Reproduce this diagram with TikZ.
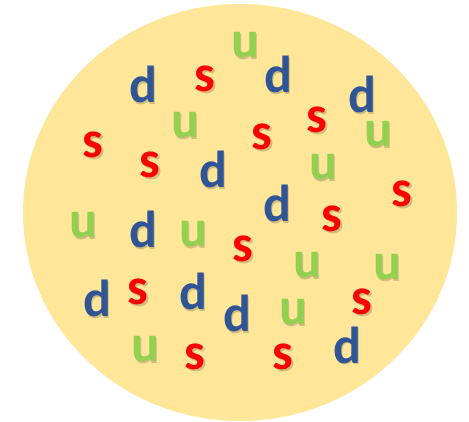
\documentclass[tikz,border=0pt]{standalone}
\usepackage{fontspec}
\setmainfont{Carlito}
\definecolor{bgfill}{HTML}{FFE699}
\definecolor{dblue}{HTML}{2F5597}
\definecolor{sred}{HTML}{FF0000}
\definecolor{ugreen}{HTML}{92D050}
\tikzset{
  ltr/.style={inner sep=0pt, anchor=base, font=\fontsize{52}{52}\selectfont\bfseries},
  shd/.style={ltr, text=black, text opacity=0.18},
  lu/.style={text=ugreen},
  ld/.style={text=dblue},
  ls/.style={text=sred},
}
\begin{document}
\begin{tikzpicture}[x=1pt,y=-1pt]
\useasboundingbox (0,0) rectangle (469,422);
\fill[bgfill] (240,212.5) ellipse [x radius=217, y radius=208.5];
\foreach \ch/\x/\y [count=\i] in {
  u/245/58, d/143/103, s/205/92, d/278/93, d/362/113,
  u/185/138, s/317/133, u/378/147, s/93/158, s/262/150,
  s/150/178, d/213/188, u/323/180, s/402/207, d/277/222,
  s/332/232, u/83/238, d/143/248, u/193/247, s/243/262,
  u/307/278, u/387/280, d/97/317, s/138/305, d/193/310,
  d/237/332, u/293/325, s/362/315, u/145/362, s/195/370,
  s/283/370, d/347/363} {
  \node[shd] (sh\i) at (\x+1.8,\y+1.8) {\ch};
  \node[ltr, l\ch] (q\i) at (\x,\y) {\ch};
}
\end{tikzpicture}
\end{document}
